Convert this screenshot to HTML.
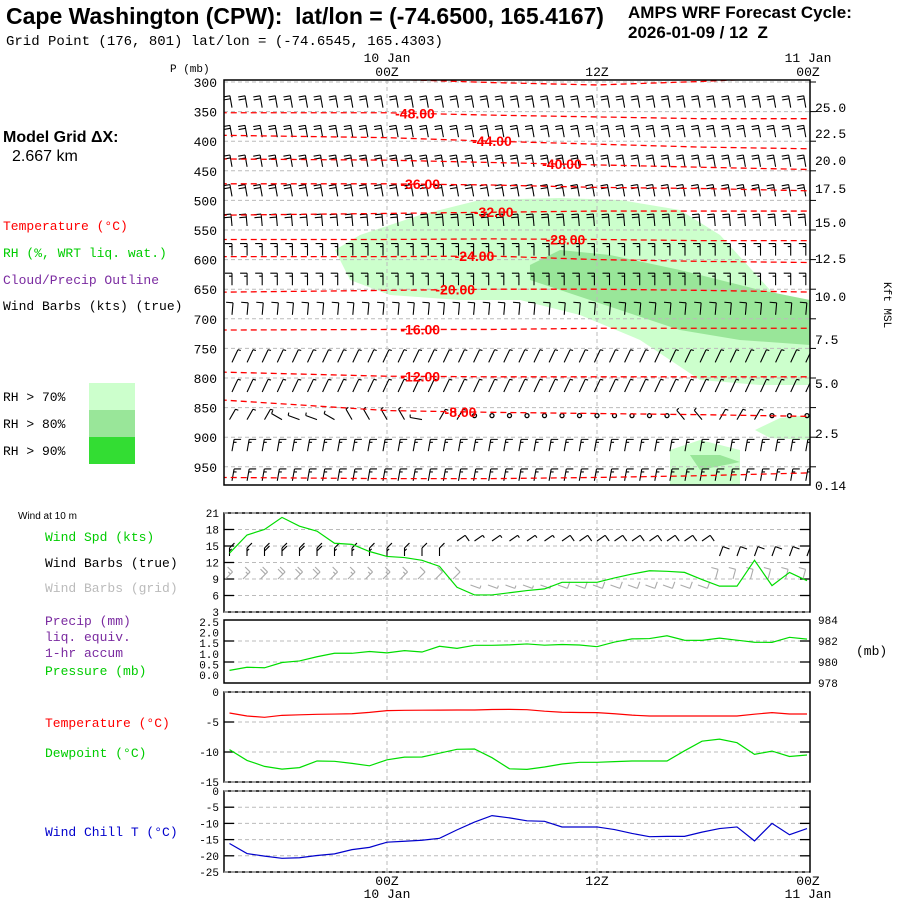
<!DOCTYPE html>
<html><head><meta charset="utf-8"><style>
html,body{margin:0;padding:0;background:#fff;}
svg{display:block;}
text{font-family:"Liberation Mono",monospace;font-size:13px;white-space:pre;}
.s{font-family:"Liberation Sans",sans-serif;}
.t{font-size:11px;}
</style></head><body>
<svg id="c" width="900" height="900" viewBox="0 0 900 900" xmlns="http://www.w3.org/2000/svg" xml:space="preserve">
<text class="s" x="6" y="24" style="font-size:23px;font-weight:bold">Cape Washington (CPW):  lat/lon = (-74.6500, 165.4167)</text>
<text x="6" y="45" style="font-size:14px">Grid Point (176, 801) lat/lon = (-74.6545, 165.4303)</text>
<text class="s" x="628" y="18" style="font-size:17px;font-weight:bold">AMPS WRF Forecast Cycle:</text>
<text class="s" x="628" y="38" style="font-size:17px;font-weight:bold">2026-01-09 / 12  Z</text>
<text class="s" x="3" y="142" style="font-size:16px;font-weight:bold">Model Grid ΔX:</text>
<text class="s" x="12" y="161" style="font-size:16px">2.667 km</text>
<text x="3" y="230" fill="#ff0000">Temperature (°C)</text>
<text x="3" y="257" fill="#00cc00">RH (%, WRT liq. wat.)</text>
<text x="3" y="284" fill="#7a2aa0">Cloud/Precip Outline</text>
<text x="3" y="310" fill="#000">Wind Barbs (kts) (true)</text>
<rect x="89" y="383" width="46" height="27" fill="#ccffcc"/>
<rect x="89" y="410" width="46" height="27" fill="#99e699"/>
<rect x="89" y="437" width="46" height="27" fill="#33dd33"/>
<text x="3" y="401">RH &gt; 70%</text>
<text x="3" y="428">RH &gt; 80%</text>
<text x="3" y="455">RH &gt; 90%</text>
<text x="170" y="72" class="t">P (mb)</text>
<text x="18" y="519" style="font-size:10px" class="s">Wind at 10 m</text>
<text x="45" y="541" fill="#00cc00">Wind Spd (kts)</text>
<text x="45" y="567">Wind Barbs (true)</text>
<text x="45" y="592" fill="#bbbbbb">Wind Barbs (grid)</text>
<text x="45" y="625" fill="#7a2aa0">Precip (mm)</text>
<text x="45" y="641" fill="#7a2aa0">liq. equiv.</text>
<text x="45" y="657" fill="#7a2aa0">1-hr accum</text>
<text x="45" y="675" fill="#00cc00">Pressure (mb)</text>
<text x="856" y="655">(mb)</text>
<text x="45" y="727" fill="#ff0000">Temperature (°C)</text>
<text x="45" y="757" fill="#00cc00">Dewpoint (°C)</text>
<text x="45" y="836" fill="#0000cc">Wind Chill T (°C)</text>
<text x="0" y="0" transform="translate(884,282) rotate(90)" class="t">Kft MSL</text>
<g id="g"></g>
</svg>
<script>
const hours=[-9,-8,-7,-6,-5,-4,-3,-2,-1,0,1,2,3,4,5,6,7,8,9,10,11,12,13,14,15,16,17,18,19,20,21,22,23,24];
const windSpd=[13.7,17,18,20.2,18.6,17.7,15.5,15.3,14,13.1,12.9,12.4,11.3,7.5,6.1,6.1,6.5,6.9,7.2,8.4,8.4,8.4,9.2,9.9,10.5,10.4,10.2,8.9,7.7,7.7,12.4,7.8,10.2,8.7];
const windDir10=[0,0,0,0,0,0,0,0,0,0,0,0,0,55,55,55,55,55,55,55,55,55,55,55,55,55,55,55,20,20,20,20,20,20];
const gridDir10=[45,45,45,45,45,45,45,45,45,45,45,45,45,45,110,110,110,110,110,110,110,110,110,110,110,110,110,110,15,15,15,15,15,15];
const surfPres=[979.2,979.5,979.45,979.95,980.1,980.5,980.83,980.83,981,980.87,981.08,980.95,981.5,981.3,981.59,981.59,981.63,981.72,981.6,981.67,981.62,981.46,981.9,982.2,982.23,982.5,982.07,982.06,982.27,982.08,981.88,981.87,982.35,982.18];
const temps=[-3.5,-4,-4.22,-3.89,-3.8,-3.72,-3.68,-3.63,-3.4,-3.1,-3.05,-3.03,-3.02,-3,-3,-2.92,-2.9,-2.95,-3.2,-3.38,-3.42,-3.44,-3.63,-3.86,-4,-4,-4,-4,-4,-4,-3.7,-3.44,-3.67,-3.67];
const dewpt=[-9.6,-11.4,-12.4,-12.85,-12.6,-11.5,-11.55,-11.9,-12.3,-11.3,-10.85,-10.83,-10.2,-9.55,-9.5,-10.95,-12.8,-12.9,-12.5,-12,-11.72,-11.72,-11.6,-11.5,-11.5,-11.5,-9.8,-8.2,-7.85,-8.45,-10.4,-9.85,-10.75,-10.5];
const windChill=[-16.2,-19.3,-20.1,-20.78,-20.6,-19.9,-19.4,-18.1,-17.4,-15.8,-15.5,-15.2,-14.6,-12,-9.6,-7.6,-8.3,-9.2,-9.36,-11.1,-11.1,-11.1,-11.9,-13.1,-14.1,-14,-14,-12.7,-11.6,-11.1,-15.4,-10,-13.5,-11.6];
const pLevels=[300,350,400,450,500,550,600,650,700,750,800,850,900,950];
const lvlDir=[345,350,350,350,350,355,0,0,5,25,25,0,10,10];
const lvlSpd=[25,20,20,20,20,20,15,15,10,5,5,5,15,15];
const lvlSide=[-1,-1,-1,-1,-1,-1,-1,-1,-1,1,1,1,1,1];
const dir850=[30,30,30,300,290,290,300,330,330,330,330,280,30,30,0,0,0,0,0,0,0,0,0,0,0,0,320,320,30,30,30,0,0,0];
const spd850=[5,5,5,5,5,5,5,5,5,5,5,5,5,5,0,0,0,0,0,0,0,0,0,0,0,0,5,5,5,5,5,0,0,0];
const heightTicks=["25.0","22.5","20.0","17.5","15.0","12.5","10.0","7.5","5.0","2.5","0.14"];
const heightTickY=[107,133,160,188,222,258,296,339,383,433,485];
const contourHours=[-9.5,0,6,12,18,24.5];
const contourVals=[-52,-48,-44,-40,-36,-32,-28,-24,-20,-16,-12,-8,-4];
const contourP=[[290,295,301,305,299,290],[352,352,356,359,362,362],[390,394,400,405,410,413],[430,432,436,440,444,448],[472,472,474,478,480,484],[525,522,520,518,518,518],[566,566,565,566,568,568],[595,595,594,600,603,605],[655,652,650,650,652,655],[719,718,718,716,716,716],[790,797,798,798,798,798],[837,855,858,860,862,865],[968,970,970,968,965,960]];
const contourLabelHour=[null,1.6,6.0,10.0,1.9,6.1,10.2,5.0,3.9,1.9,1.9,4.2,null];
const rh70A_t=[-2.97,-1.54,1.89,5.31,9.89,13.31,16.74,19.03,21.89,24.17,24.17,21.31,17.89,14.46,11.03,7.6,4.17,0.17,-2.11];
const rh70A_p=[583.8,558.4,524.6,499.3,495.9,499.3,516.2,558.4,651.3,685.1,811.8,811.8,803.3,735.8,693.5,668.2,668.2,659.8,634.4];
const rh70B_t=[21.03,22.46,24.17,24.17,21.89];
const rh70B_p=[887.8,867.5,862.5,904.7,901.3];
const rh70C_t=[16.17,17.89,20.17,20.17,16.17];
const rh70C_p=[921.6,904.7,921.6,990,990];
const rh80A_t=[8.17,9.89,12.74,16.74,21.31,24.17,24.17,20.17,16.74,13.31,9.89,8.17];
const rh80A_p=[609.1,583.8,592.2,617.5,651.3,668.2,744.2,735.8,718.9,685.1,651.3,634.4];
const rh80B_t=[17.31,19.03,20.17,17.89];
const rh80B_p=[930,930,941.8,955.3];

const NS='http://www.w3.org/2000/svg';
const G=document.getElementById('g');
function mk(tag,attrs,parent){const e=document.createElementNS(NS,tag);for(const k in attrs)e.setAttribute(k,attrs[k]);(parent||G).appendChild(e);return e;}
const L=224,R=810;
function X(t){return 387+17.5*t;}
function PY(p){return 82+(p-300)*29.6/50;}

const defs=mk('defs',{});
const cp=mk('clipPath',{id:'mc'},defs);mk('rect',{x:L,y:80,width:R-L,height:405},cp);
const cp2=mk('clipPath',{id:'wc'},defs);mk('rect',{x:L,y:513,width:R-L,height:99},cp2);
const main=mk('g',{'clip-path':'url(#mc)'});



function poly(ts,ps,fill,name){const pts=ts.map((t,i)=>X(t)+','+PY(ps[i])).join(' ');const e=mk('polygon',{points:pts,fill:fill},main);

}
poly(rh70A_t,rh70A_p,'#ccffcc','rh70-region');
poly(rh70B_t,rh70B_p,'#ccffcc','rh70-region');
poly(rh70C_t,rh70C_p,'#ccffcc','rh70-region');
poly(rh80A_t,rh80A_p,'#99e699','rh80-region');
poly(rh80B_t,rh80B_p,'#99e699','rh80-region');

pLevels.forEach(p=>{const l=mk('line',{x1:L,x2:R,y1:PY(p),y2:PY(p),stroke:'#bbb','stroke-dasharray':'4,3'},main);

});
[0,12].forEach(t=>{const l=mk('line',{x1:X(t),x2:X(t),y1:80,y2:485,stroke:'#bbb','stroke-dasharray':'4,3'},main);

});

function barb(x,y,dir,spd,col,len,side,tilt,par){
  if(spd<3){const c=mk('circle',{cx:x,cy:y-4,r:2,fill:'none',stroke:col,'stroke-width':1.3},par);
    
    return;}
  const r=dir*Math.PI/180,ux=Math.sin(r),uy=-Math.cos(r),rx=Math.cos(r),ry=Math.sin(r);
  const a=tilt*Math.PI/180,fx=side*rx*Math.cos(a)+ux*Math.sin(a),fy=side*ry*Math.cos(a)+uy*Math.sin(a);
  let d='M'+x+','+y+'l'+(ux*len)+','+(uy*len);
  let n=Math.round(spd/5),pos=len;
  const full=Math.floor(n/2),half=n%2;
  for(let i=0;i<full;i++){const bx=x+ux*pos,by=y+uy*pos;d+='M'+bx+','+by+'l'+(fx*7)+','+(fy*7);pos-=3;}
  if(half){const bx=x+ux*pos,by=y+uy*pos;d+='M'+bx+','+by+'l'+(fx*3)+','+(fy*3);}
  const e=mk('path',{d:d,stroke:col,fill:'none','stroke-width':1.1},par);
  
  
}
pLevels.forEach((p,li)=>{
  if(p===850){hours.forEach((h,i)=>barb(X(h),PY(p)+12,dir850[i],spd850[i],'#000',12,1,10,main));return;}
  const yb=p>=750?PY(p)+14:PY(p)-4;
  for(let x=232;x<808;x+=15.1){barb(x,yb,lvlDir[li],lvlSpd[li],'#000',p===750||p===800?14:12,lvlSide[li],p>=750?10:0,main);}
});

contourVals.forEach((v,ci)=>{
  const ps=contourP[ci];
  const pts=contourHours.map((t,i)=>X(t)+','+PY(ps[i])).join(' ');
  const e=mk('polyline',{points:pts,fill:'none',stroke:'#ff0000','stroke-width':1.3,'stroke-dasharray':'6,4'},main);
  
  
  const lh=contourLabelHour[ci];
  if(lh!==null){
    let k=0;while(k<contourHours.length-2&&contourHours[k+1]<lh)k++;
    const f=(lh-contourHours[k])/(contourHours[k+1]-contourHours[k]);
    const pp=ps[k]+f*(ps[k+1]-ps[k]);
    const tx=mk('text',{x:X(lh),y:PY(pp)+5,fill:'#ff0000','text-anchor':'middle',style:'font-family:Liberation Sans,sans-serif;font-size:14px;font-weight:bold'},main);
    tx.textContent=v.toFixed(2);
    
    
  }
});

const fr=mk('rect',{x:L,y:80,width:R-L,height:405,fill:'none',stroke:'#000','stroke-width':1.5});


pLevels.forEach(p=>{const t=mk('text',{x:217,y:PY(p)+5,'text-anchor':'end'});t.textContent=p;


mk('line',{x1:R,x2:R+6,y1:PY(p),y2:PY(p),stroke:'#000'});});
heightTicks.forEach((h,i)=>{const t=mk('text',{x:815,y:heightTickY[i]+5});t.textContent=h;

});
function tl(x,y,s,name){const t=mk('text',{x:x,y:y,'text-anchor':'middle'});t.textContent=s;

}
tl(387,62,'10 Jan','top-date-label');tl(387,76,'00Z','top-time-label');tl(597,76,'12Z','top-time-label');
tl(808,62,'11 Jan','top-date-label');tl(808,76,'00Z','top-time-label');
tl(387,885,'00Z','bottom-time-label');tl(387,898,'10 Jan','bottom-date-label');tl(597,885,'12Z','bottom-time-label');
tl(808,885,'00Z','bottom-time-label');tl(808,898,'11 Jan','bottom-date-label');

function panel(y0,y1,name){const r=mk('rect',{x:L,y:y0,width:R-L,height:y1-y0,fill:'none',stroke:'#000','stroke-width':1.5});


[0,12].forEach(t=>mk('line',{x1:X(t),x2:X(t),y1:y0,y2:y1,stroke:'#bbb','stroke-dasharray':'4,3'}));}
function hgrid(y,lab,lx,anchor,ticks){mk('line',{x1:L,x2:R,y1:y,y2:y,stroke:'#bbb','stroke-dasharray':'4,3'});
if(ticks){mk('line',{x1:L,x2:L+10,y1:y,y2:y,stroke:'#000','stroke-width':1.3});mk('line',{x1:R-10,x2:R,y1:y,y2:y,stroke:'#000','stroke-width':1.3});}
if(lab!==null){const t=mk('text',{x:lx,y:y+4,'text-anchor':anchor,class:'t'});t.textContent=lab;

}}
function series(vals,yf,col,name){const pts=hours.map((h,i)=>X(h)+','+yf(vals[i])).join(' ');
const e=mk('polyline',{points:pts,fill:'none',stroke:col,'stroke-width':1.2});

}

const WY=v=>612-(v-3)*99/18;
panel(513,612,'wind-panel');
[21,18,15,12,9,6,3].forEach(v=>hgrid(WY(v),String(v),219,'end',v!==21&&v!==3));
const wg=mk('g',{'clip-path':'url(#wc)'});
hours.forEach((h,i)=>{const gd=gridDir10[i];barb(X(h)-4,gd>90?585:579,gd,windSpd[i],'#aaaaaa',10,-1,0,wg);});
hours.forEach((h,i)=>{const d=windDir10[i];barb(X(h),d>40?541:556,d,windSpd[i],'#000',d<10?8:10,1,d<10?45:0,wg);});
series(windSpd,WY,'#00dd00','wind-speed-line');

const PPY=v=>683-(v-978)*63/6;
panel(620,683,'pressure-panel');
[982,980].forEach(v=>hgrid(PPY(v),null,0,'end',true));
[984,982,980,978].forEach(v=>{const t=mk('text',{x:818,y:PPY(v)+4,class:'t'});t.textContent=v;

});
['2.5','2.0','1.5','1.0','0.5','0.0'].forEach((s,i)=>{const t=mk('text',{x:219,y:626+i*10.6,'text-anchor':'end',class:'t'});t.textContent=s;

});
series(surfPres,PPY,'#00dd00','pressure-line');

const TY=v=>692-v*6;
panel(692,782,'temperature-panel');
hgrid(TY(0),'0',219,'end',false);hgrid(TY(-5),'-5',219,'end',true);hgrid(TY(-10),'-10',219,'end',true);hgrid(TY(-15),'-15',219,'end',false);
series(temps,TY,'#ff0000','temperature-line');
series(dewpt,TY,'#00dd00','dewpoint-line');

const CY=v=>791-v*81/25;
panel(791,872,'wind-chill-panel');
[0,-5,-10,-15,-20,-25].forEach(v=>hgrid(CY(v),String(v),219,'end',v!==0&&v!==-25));
series(windChill,CY,'#0000cc','wind-chill-line');
</script>
</body></html>
